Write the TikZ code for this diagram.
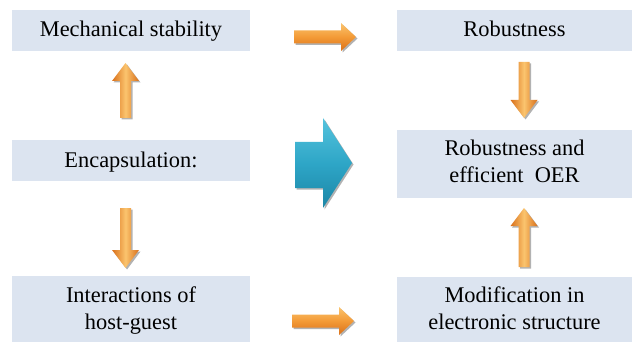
\documentclass[tikz,border=0pt]{standalone}
\usepackage{fontspec}
\setmainfont{Liberation Serif}
\usetikzlibrary{shadows}
\definecolor{boxfill}{HTML}{DCE4F0}
\definecolor{orL}{HTML}{FBC46E}
\definecolor{orM}{HTML}{F39A36}
\definecolor{orD}{HTML}{D9701A}
\definecolor{blL}{HTML}{55C3DD}
\definecolor{blM}{HTML}{2EA6C7}
\definecolor{blD}{HTML}{1C86A6}
\tikzset{
  box/.style={fill=boxfill, inner sep=0pt, align=center, font=\fontsize{22.4}{27}\selectfont},
  shadowed/.style={drop shadow={shadow xshift=1.5pt, shadow yshift=-1.5pt, opacity=0.3, fill=black}},
  vorange/.style={shadowed, left color=orD, right color=orD, middle color=orL},
  horange/.style={shadowed, top color=orL, bottom color=orD, middle color=orM},
  bluearrow/.style={shadowed, top color=blL, bottom color=blD, middle color=blM},
}
\newcommand\shiftedtext[2]{\raisebox{#1}[\height][\depth]{\begin{tabular}{@{}c@{}}#2\end{tabular}}}
\newcommand\myVArrow[3]{%
  \pgfmathsetmacro\hbase{#3>#2 ? #3-18 : #3+18}%
  \path[vorange] (#1-5.5,#2) -- (#1-5.5,\hbase) -- (#1-13.5,\hbase) -- (#1,#3)
    -- (#1+13.5,\hbase) -- (#1+5.5,\hbase) -- (#1+5.5,#2) -- cycle;}
\newcommand\myHArrow[3]{%
  \pgfmathsetmacro\hbase{#3>#2 ? #3-15 : #3+15}%
  \path[horange] (#2,#1-6.5) -- (\hbase,#1-6.5) -- (\hbase,#1-14) -- (#3,#1)
    -- (\hbase,#1+14) -- (\hbase,#1+6.5) -- (#2,#1+6.5) -- cycle;}
\begin{document}
\begin{tikzpicture}[x=1pt,y=-1pt]
\useasboundingbox (0,0) rectangle (632,342);
\node[box, minimum width=238pt, minimum height=41pt] (mech) at (131,30.5) {\shiftedtext{-0.5pt}{Mechanical stability}};
\node[box, minimum width=238pt, minimum height=41pt] (enc) at (131,160.5) {\shiftedtext{-2pt}{Encapsulation:}};
\node[box, minimum width=238pt, minimum height=66pt] (inter) at (131,309) {\shiftedtext{-2pt}{Interactions of\\host-guest}};
\node[box, minimum width=235pt, minimum height=41pt] (rob) at (514.5,30.5) {\shiftedtext{-0.5pt}{Robustness}};
\node[box, minimum width=235pt, minimum height=68pt] (oer) at (514.5,164) {\shiftedtext{0pt}{Robustness and\\efficient\ \ OER}};
\node[box, minimum width=235pt, minimum height=65pt] (mod) at (514.5,309.5) {\shiftedtext{-1pt}{Modification in\\electronic structure}};
% orange block arrows
\myVArrow{125.5}{118}{63}
\myVArrow{125.5}{208}{268}
\myVArrow{524}{62}{118}
\myVArrow{524}{267}{208}
\myHArrow{37}{294}{356}
\myHArrow{321}{292}{354}
% blue block arrow
\path[bluearrow] (295,142) -- (323,142) -- (323,118) -- (352,163) -- (323,208) -- (323,188) -- (295,188) -- cycle;
\end{tikzpicture}
\end{document}
